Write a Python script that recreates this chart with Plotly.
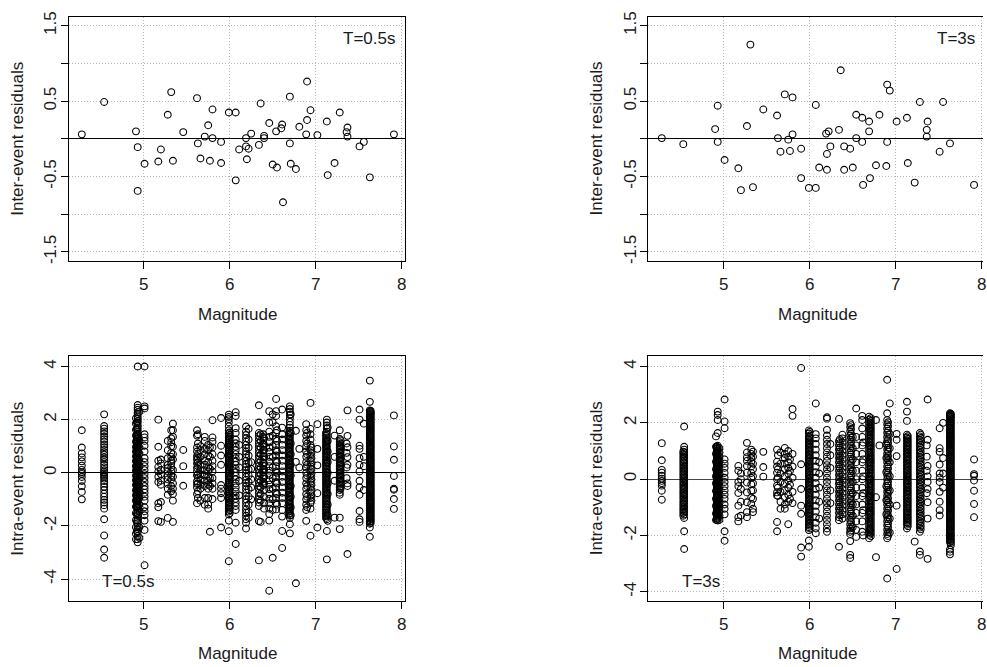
import plotly.graph_objects as go

W, H = 987, 667

# ---------------- data ----------------
inter05_mag = [4.28, 4.54, 4.91, 4.93, 4.93, 5.01, 5.17, 5.20, 5.28, 5.32, 5.34, 5.46, 5.62, 5.63, 5.66, 5.71,
               5.75, 5.77, 5.80, 5.80, 5.90, 5.90, 5.99, 6.07, 6.07, 6.11, 6.19, 6.19, 6.20, 6.22, 6.25, 6.34,
               6.36, 6.40, 6.40, 6.46, 6.50, 6.54, 6.55, 6.60, 6.61, 6.62, 6.70, 6.70, 6.71, 6.77, 6.81, 6.89,
               6.90, 6.90, 6.94, 7.02, 7.13, 7.14, 7.22, 7.28, 7.36, 7.37, 7.37, 7.51, 7.56, 7.63, 7.91]
inter05_res = [0.06, 0.49, 0.10, -0.11, -0.69, -0.33, -0.30, -0.14, 0.32, 0.62, -0.29, 0.09, 0.54, -0.06, -0.26, 0.03,
               0.18, -0.29, 0.39, 0.01, -0.04, -0.32, 0.35, 0.35, -0.55, -0.14, 0.01, -0.10, -0.27, -0.13, 0.07, -0.08,
               0.47, 0.04, 0.01, 0.21, -0.34, 0.10, -0.38, 0.14, 0.19, -0.84, 0.56, -0.06, -0.33, -0.40, 0.16, 0.06,
               0.76, 0.25, 0.38, 0.05, 0.23, -0.48, -0.32, 0.35, 0.09, 0.03, 0.15, -0.10, -0.04, -0.51, 0.06]

inter3_mag = [4.28, 4.53, 4.90, 4.93, 4.93, 5.01, 5.17, 5.20, 5.27, 5.31, 5.34, 5.46, 5.62, 5.63, 5.66, 5.71,
              5.75, 5.77, 5.80, 5.80, 5.90, 5.90, 5.99, 6.07, 6.07, 6.11, 6.19, 6.20, 6.20, 6.22, 6.24, 6.34,
              6.36, 6.40, 6.40, 6.47, 6.50, 6.54, 6.54, 6.61, 6.61, 6.62, 6.69, 6.69, 6.70, 6.77, 6.81, 6.89,
              6.90, 6.90, 6.93, 7.01, 7.13, 7.14, 7.22, 7.28, 7.36, 7.36, 7.37, 7.51, 7.55, 7.63, 7.91]
inter3_res = [0.01, -0.07, 0.13, 0.44, -0.04, -0.28, -0.39, -0.68, 0.17, 1.25, -0.64, 0.39, 0.31, 0.01, -0.17, 0.59,
              -0.01, -0.16, 0.55, 0.06, -0.13, -0.52, -0.65, 0.45, -0.65, -0.38, 0.07, -0.20, -0.41, 0.10, -0.10, 0.12,
              0.91, -0.10, -0.41, -0.13, -0.38, 0.32, 0.01, 0.28, -0.04, -0.61, 0.23, 0.10, -0.52, -0.35, 0.32, -0.36,
              0.72, -0.04, 0.64, 0.23, 0.28, -0.32, -0.58, 0.49, 0.03, 0.12, 0.23, -0.17, 0.49, -0.06, -0.61]

# intra-event residuals (T=0.5s), one list of records per event magnitude
intra05_mag = [4.28, 4.54, 4.91, 4.93, 5.01, 5.17, 5.20, 5.28, 5.32, 5.34, 5.46, 5.62, 5.63, 5.66, 5.71, 5.75,
               5.77, 5.80, 5.90, 5.99, 6.07, 6.11, 6.19, 6.22, 6.25, 6.34, 6.36, 6.40, 6.46, 6.50, 6.54, 6.55,
               6.61, 6.70, 6.71, 6.77, 6.81, 6.89, 6.90, 6.94, 7.02, 7.13, 7.14, 7.22, 7.28, 7.36, 7.37, 7.51,
               7.56, 7.63, 7.91,
               4.92, 4.95, 6.00, 6.39, 6.69, 6.95, 7.12, 7.29, 7.64]
intra05_res = [
    [1.60, 0.95, 0.73, 0.58, 0.43, 0.27, 0.11, 0.02, -0.04, -0.16, -0.31, -0.51, -0.72, -1.00],
    [2.20, 1.76, 1.66, 1.56, 1.47, 1.36, 1.26, 1.17, 1.06, 0.96, 0.86, 0.77, 0.68, 0.58, 0.50, 0.40, 0.30, 0.20,
     0.10, 0.04, -0.02, -0.08, -0.14, -0.22, -0.31, -0.41, -0.53, -0.65, -0.78, -0.90, -1.02, -1.12, -1.22, -1.35,
     -1.75, -2.36, -2.89, -3.20],
    [2.05, 1.85, 1.62, 1.40, 1.18, 0.97, 0.80, 0.62, 0.44, 0.25, 0.08, -0.10, -0.28, -0.46, -0.66, -0.85, -1.05,
     -1.28, -1.52, -1.78, -2.05, -2.30, -2.50],
    [4.00, 2.55, 2.45, 2.37, 2.28, 2.21, 2.12, 2.03, 1.95, 1.88, 1.78, 1.71, 1.62, 1.53, 1.46, 1.38, 1.31, 1.22,
     1.14, 1.05, 0.98, 0.91, 0.82, 0.74, 0.67, 0.58, 0.50, 0.43, 0.34, 0.26, 0.19, 0.10, 0.02, -0.06, -0.13,
     -0.22, -0.30, -0.37, -0.46, -0.54, -0.61, -0.70, -0.78, -0.85, -0.94, -1.02, -1.09, -1.18, -1.26, -1.33,
     -1.42, -1.50, -1.61, -1.70, -1.79, -1.90, -2.01, -2.12, -2.24, -2.38, -2.50, -2.62],
    [4.00, 2.50, 2.42, 1.45, 1.33, 1.20, 1.02, 0.80, 0.55, 0.40, 0.25, 0.10, -0.05, -0.20, -0.35, -0.50, -0.62,
     -0.75, -0.90, -1.05, -1.30, -1.45, -1.60, -1.80, -2.15, -3.48],
    [2.00, 0.98, 0.45, 0.22, 0.05, -0.15, -0.35, -1.15, -1.30, -1.82],
    [0.50, 0.35, 0.10, -0.05, -0.30, -0.45, -1.10, -1.85],
    [1.20, 0.85, 0.55, 0.30, 0.18, 0.05, -0.12, -0.25, -0.42, -0.60, -0.83, -1.70],
    [1.60, 1.30, 1.15, 1.00, 0.75, 0.60, 0.45, 0.35, 0.20, 0.05, -0.10, -0.25, -0.50, -0.70],
    [1.85, 1.60, 1.35, 0.98, 0.70, 0.50, 0.10, -0.15, -0.40, -0.60, -0.80, -1.05, -1.85],
    [0.86, 0.25, -0.49],
    [1.60, 1.40, 0.95, 0.80, 0.62, 0.50, 0.35, 0.18, 0.05, -0.10, -0.32, -0.42, -0.55, -0.80, -1.15],
    [1.45, 1.10, 0.70, 0.55, 0.40, 0.25, -0.05, -0.20, -0.40, -0.70, -0.95],
    [1.00, 0.85, 0.60, 0.30, 0.10, -0.05, -0.25, -0.45, -0.60, -1.05],
    [1.35, 1.20, 0.90, 0.70, 0.45, 0.30, 0.10, -0.10, -0.30, -0.50, -0.95, -1.20],
    [1.05, 0.85, 0.65, 0.40, 0.20, 0.05, -0.15, -0.30, -0.45, -0.60, -0.95, -1.20, -1.35],
    [0.95, 0.60, 0.15, -0.20, -0.50, -2.22],
    [1.98, 1.33, 1.17, 0.95, 0.70, 0.45, 0.25, 0.05, -0.20, -0.40, -0.60, -0.99],
    [2.06, 1.02, 0.65, 0.30, -0.46, -0.60, -0.77, -0.95, -2.06],
    [2.19, 2.10, 2.02, 1.90, 1.75, 1.60, 1.48, 1.38, 1.30, 1.22, 1.12, 1.05, 0.96, 0.88, 0.80, 0.71, 0.62, 0.55,
     0.46, 0.38, 0.30, 0.21, 0.13, 0.05, -0.03, -0.12, -0.20, -0.28, -0.37, -0.45, -0.53, -0.62, -0.70, -0.79,
     -0.88, -0.97, -1.06, -1.15, -1.25, -1.36, -1.46, -1.57, -1.80, -2.20, -3.33],
    [2.28, 2.14, 1.68, 1.50, 1.25, 1.11, 0.98, 0.85, 0.70, 0.55, 0.42, 0.30, 0.15, 0.02, -0.12, -0.25, -0.40,
     -0.55, -0.70, -0.85, -0.98, -1.12, -1.25, -1.40, -1.88, -2.68],
    [1.05, 0.60, 0.20, -0.30, -0.85],
    [1.74, 1.55, 1.42, 1.30, 1.18, 1.05, 0.93, 0.80, 0.70, 0.58, 0.45, 0.33, 0.22, 0.10, -0.02, -0.15, -0.27,
     -0.38, -0.50, -0.62, -0.75, -0.88, -1.00, -1.12, -1.25, -1.38, -1.50, -1.62, -1.75, -1.88, -2.10],
    [1.65, 1.25, 0.95, 0.65, 0.38, 0.12, -0.10, -0.35, -0.62, -0.90, -1.20, -1.48, -1.70],
    [0.40, 0.15, -0.25, -0.55, -1.00],
    [2.54, 1.89, 1.50, 1.38, 1.25, 1.12, 1.00, 0.88, 0.75, 0.62, 0.50, 0.38, 0.25, 0.12, 0.00, -0.12, -0.25,
     -0.38, -0.50, -0.62, -0.75, -0.88, -1.00, -1.12, -1.25, -1.82, -3.30],
    [1.45, 1.20, 0.95, 0.70, 0.45, 0.20, -0.05, -0.30, -0.55, -0.80, -1.05, -1.85],
    [1.30, 1.05, 0.85, 0.60, 0.35, 0.10, -0.15, -0.40, -0.65, -0.90, -1.15, -1.35],
    [2.32, 1.89, 1.55, 1.35, 1.15, 0.95, 0.78, 0.60, 0.42, 0.25, 0.08, -0.10, -0.28, -0.45, -0.62, -0.80, -0.98,
     -1.15, -1.35, -1.55, -1.80, -4.44],
    [2.20, 1.90, 1.40, 1.00, 0.60, 0.20, -0.20, -0.60, -1.00, -1.40, -3.20],
    [2.78, 2.32, 2.14, 1.75, 1.50, 1.28, 1.05, 0.85, 0.65, 0.45, 0.25, 0.05, -0.15, -0.35, -0.55, -0.75, -0.95,
     -1.15, -1.38],
    [1.60, 1.20, 0.80, 0.40, 0.00, -0.40, -0.80, -1.20],
    [2.38, 1.70, 1.45, 1.25, 1.05, 0.85, 0.65, 0.45, 0.25, 0.05, -0.15, -0.35, -0.55, -0.75, -0.95, -1.15, -1.40,
     -1.65, -2.19, -2.83],
    [2.50, 2.40, 2.30, 2.18, 2.05, 1.92, 1.80, 1.70, 1.58, 1.48, 1.38, 1.28, 1.18, 1.08, 0.98, 0.88, 0.78, 0.68,
     0.58, 0.48, 0.38, 0.28, 0.18, 0.08, -0.02, -0.12, -0.22, -0.32, -0.42, -0.52, -0.62, -0.72, -0.82, -0.92,
     -1.02, -1.12, -1.22, -1.32, -1.42, -1.52, -1.62, -1.70, -1.94, -2.28],
    [2.20, 1.50, 1.10, 0.70, 0.30, -0.10, -0.50, -0.90, -1.30, -1.60],
    [1.58, 0.41, -4.16],
    [0.90, 0.20],
    [1.83, 1.60, 1.40, 1.20, 1.00, 0.80, 0.60, 0.40, 0.20, 0.00, -0.20, -0.40, -0.60, -0.80, -1.00, -1.20, -1.40,
     -1.81],
    [1.50, 1.10, 0.70, 0.30, -0.10, -0.50, -0.90, -1.30],
    [2.63, 1.65, 1.45, 1.25, 1.05, 0.85, 0.65, 0.45, 0.25, 0.05, -0.15, -0.35, -0.55, -0.75, -0.95, -1.15, -1.35,
     -2.37],
    [1.83, 0.90, 0.28, -0.77, -2.06],
    [2.00, 1.89, 1.78, 1.66, 1.55, 1.44, 1.33, 1.22, 1.11, 1.00, 0.89, 0.78, 0.67, 0.56, 0.45, 0.34, 0.23, 0.12,
     0.01, -0.10, -0.21, -0.32, -0.43, -0.54, -0.65, -0.76, -0.87, -0.98, -1.09, -1.20, -1.31, -1.42, -1.53,
     -1.64, -1.75, -2.19, -3.26],
    [1.70, 1.20, 0.80, 0.40, 0.00, -0.40, -0.80, -1.20, -1.60, -1.81],
    [1.40, 0.60, -0.30, -1.69],
    [1.60, 1.27, 1.15, 1.05, 0.95, 0.85, 0.75, 0.65, 0.55, 0.45, 0.35, 0.25, 0.15, 0.05, -0.05, -0.15, -0.25,
     -0.35, -0.45, -0.55, -0.65, -0.75, -0.83, -1.69, -2.12],
    [1.10, 0.75, 0.20, -0.20],
    [2.35, 1.39, 0.96, 0.59, 0.30, -0.40, -0.50, -3.06],
    [2.38, 2.00, 1.02, 0.90, 0.55, 0.30, 0.05, -0.30, -0.55, -0.83, -1.44, -1.75, -1.85],
    [1.85, 0.60, 0.25, -0.65],
    [3.47, 2.67, 2.35, 2.30, 2.24, 2.18, 2.12, 2.06, 2.00, 1.93, 1.86, 1.79, 1.72, 1.65, 1.58, 1.51, 1.44, 1.37,
     1.30, 1.23, 1.16, 1.09, 1.02, 0.95, 0.88, 0.81, 0.74, 0.67, 0.60, 0.53, 0.46, 0.39, 0.32, 0.25, 0.18, 0.11,
     0.04, -0.03, -0.10, -0.17, -0.24, -0.31, -0.38, -0.45, -0.52, -0.59, -0.66, -0.73, -0.80, -0.87, -0.94,
     -1.01, -1.08, -1.15, -1.22, -1.29, -1.36, -1.43, -1.50, -1.57, -1.64, -1.71, -1.78, -1.85, -1.92, -2.06,
     -2.41],
    [2.16, 0.99, 0.49, -0.12, -0.60, -0.64, -0.99, -1.36],
    # records of neighbouring events inside the dense columns
    [1.90, 1.65, 1.42, 1.34, 1.26, 1.18, 1.10, 1.02, 0.94, 0.86, 0.78, 0.70, 0.62, 0.54, 0.46, 0.38, 0.30, 0.22,
     0.14, 0.06, -0.02, -0.10, -0.18, -0.26, -0.34, -0.42, -0.50, -0.58, -0.66, -0.74, -0.82, -0.90, -0.98,
     -1.06, -1.14, -1.22, -1.30, -1.55, -1.85, -2.20],
    [2.30, 1.20, 0.95, 0.72, 0.48, 0.24, 0.00, -0.24, -0.48, -0.72, -0.96, -1.20, -1.45, -2.05, -2.45],
    [1.52, 1.43, 1.34, 1.26, 1.17, 1.08, 1.00, 0.92, 0.84, 0.75, 0.67, 0.58, 0.50, 0.42, 0.34, 0.25, 0.17, 0.09,
     0.01, -0.08, -0.16, -0.24, -0.33, -0.41, -0.49, -0.58, -0.66, -0.75, -0.84, -0.93, -1.02, -1.11, -1.20,
     -1.30, -1.41, -1.52],
    [1.45, 1.35, 1.22, 1.10, 0.98, 0.86, 0.74, 0.62, 0.50, 0.38, 0.26, 0.14, 0.02, -0.10, -0.22, -0.34, -0.46],
    [1.52, 1.43, 1.33, 1.23, 1.13, 1.03, 0.93, 0.83, 0.73, 0.63, 0.53, 0.43, 0.33, 0.23, 0.13, 0.03, -0.07,
     -0.17, -0.27, -0.37, -0.47, -0.57, -0.67, -0.77, -0.87, -0.97, -1.07, -1.17, -1.27, -1.37, -1.47, -1.57],
    [0.95, 0.75, 0.55, 0.35, 0.15, -0.05, -0.25, -0.45, -0.65, -0.85, -1.05],
    [1.50, 1.39, 1.27, 1.16, 1.05, 0.94, 0.83, 0.72, 0.61, 0.50, 0.39, 0.28, 0.17, 0.06, -0.05, -0.16, -0.27,
     -0.38, -0.49, -0.60, -0.71, -0.82, -0.93, -1.04, -1.15, -1.26, -1.37, -1.48, -1.59, -1.70],
    [1.22, 1.10, 1.00, 0.90, 0.80, 0.70, 0.60, 0.50, 0.40, 0.30, 0.20, 0.10, 0.00, -0.10, -0.20, -0.30, -0.40,
     -0.50, -0.60],
    [2.33, 2.27, 2.21, 2.15, 2.09, 2.03, 1.96, 1.89, 1.82, 1.75, 1.68, 1.61, 1.54, 1.47, 1.40, 1.33, 1.26, 1.19,
     1.12, 1.05, 0.98, 0.91, 0.84, 0.77, 0.70, 0.63, 0.56, 0.49, 0.42, 0.35, 0.28, 0.21, 0.14, 0.07, 0.00,
     -0.07, -0.14, -0.21, -0.28, -0.35, -0.42, -0.49, -0.56, -0.63, -0.70, -0.77, -0.84, -0.91, -0.98, -1.05,
     -1.12, -1.19, -1.26, -1.33, -1.40, -1.47, -1.54, -1.61, -1.68, -1.75, -1.82, -1.89],
]

# intra-event residuals (T=3s)
intra3_mag = [4.28, 4.54, 4.91, 4.93, 5.01, 5.17, 5.20, 5.27, 5.32, 5.34, 5.46, 5.62, 5.63, 5.66, 5.71, 5.75,
              5.77, 5.80, 5.90, 5.99, 6.07, 6.11, 6.20, 6.24, 6.34, 6.38, 6.47, 6.50, 6.54, 6.61, 6.62, 6.69,
              6.70, 6.77, 6.81, 6.89, 6.90, 6.93, 7.01, 7.13, 7.22, 7.28, 7.36, 7.37, 7.51, 7.55, 7.63, 7.91,
              4.53, 4.92, 4.95, 6.00, 6.35, 6.48, 6.71, 6.91, 7.14, 7.29, 7.64]
intra3_res = [
    [1.28, 0.67, 0.33, 0.23, 0.12, 0.02, -0.06, -0.14, -0.23, -0.41, -0.73],
    [1.87, 1.15, 1.05, 0.95, 0.86, 0.76, 0.66, 0.56, 0.45, 0.35, 0.26, 0.15, 0.05, -0.05, -0.15, -0.26, -0.35,
     -0.45, -0.55, -0.65, -0.76, -0.85, -0.96, -1.05, -1.16, -1.25, -1.38, -1.85, -2.48],
    [1.52, 1.15, 0.90, 0.62, 0.35, 0.10, -0.15, -0.42, -0.70, -0.95, -1.22, -1.45],
    [2.40, 2.28, 2.10, 1.64, 1.19, 1.12, 1.05, 0.98, 0.91, 0.84, 0.77, 0.70, 0.63, 0.56, 0.49, 0.42, 0.35,
     0.28, 0.21, 0.14, 0.07, 0.00, -0.07, -0.14, -0.21, -0.28, -0.35, -0.42, -0.49, -0.56, -0.63, -0.70,
     -0.77, -0.84, -0.91, -0.98, -1.05, -1.12, -1.19, -1.26, -1.33, -1.40, -1.47],
    [2.83, 2.05, 1.81, 0.70, 0.55, 0.40, 0.22, 0.05, -0.10, -0.25, -0.40, -0.55, -0.70, -0.90, -1.05, -1.25,
     -1.85, -2.19],
    [0.47, 0.30, -0.10, -0.25, -0.49, -0.94, -1.35, -1.50],
    [0.20, 0.00, -0.35, -0.80, -1.30],
    [1.29, 0.95, 0.78, 0.65, 0.47, 0.23, -0.12, -0.47, -0.82, -1.17, -1.35],
    [1.05, 0.90, 0.75, 0.62, 0.45, 0.22, 0.05, -0.18, -0.41, -0.65, -0.88],
    [0.98, 0.80, 0.55, 0.35, 0.10, -0.15, -0.40, -0.70, -1.05, -1.17],
    [0.97, 0.43, 0.09],
    [1.05, 0.62, 0.45, 0.23, 0.00, -0.23, -0.47, -0.58, -1.52, -1.85],
    [0.85, 0.35, 0.05, -0.30, -0.60],
    [0.95, 0.55, 0.20, -0.10, -0.45, -0.80, -1.05],
    [1.11, 0.90, 0.75, 0.55, 0.35, 0.10, -0.15, -0.40, -0.65, -0.90, -1.05],
    [1.00, 0.80, 0.60, 0.40, 0.20, -0.05, -0.30, -0.55, -0.80, -1.60],
    [0.70, 0.30, -0.20, -0.70],
    [2.49, 2.25, 0.90, 0.45, 0.05, -0.45, -0.85],
    [3.95, 0.53, -0.35, -0.94, -1.23, -2.43, -2.75],
    [1.73, 1.62, 1.50, 1.40, 1.30, 1.20, 1.10, 1.00, 0.90, 0.80, 0.70, 0.60, 0.50, 0.40, 0.30, 0.20, 0.10,
     0.00, -0.10, -0.20, -0.30, -0.40, -0.50, -0.60, -0.70, -0.80, -0.90, -1.00, -1.10, -1.20, -1.30, -1.40,
     -1.50, -1.60, -1.70, -1.81, -2.18, -2.40],
    [2.69, 1.60, 1.45, 1.25, 1.05, 0.85, 0.65, 0.45, 0.25, 0.05, -0.15, -0.35, -0.55, -0.75, -0.95, -1.15,
     -1.35, -1.55, -1.75, -1.92],
    [0.60, 0.20, -0.30, -0.80, -1.40],
    [2.20, 2.15, 1.75, 1.55, 1.40, 1.25, 1.10, 0.95, 0.80, 0.65, 0.50, 0.35, 0.20, 0.05, -0.10, -0.25, -0.40,
     -0.55, -0.70, -0.85, -1.00, -1.15, -1.30, -1.45, -1.60, -1.75, -1.87],
    [1.25, 0.85, 0.40, -0.40, -0.85],
    [2.14, 1.35, 1.20, 1.05, 0.90, 0.75, 0.60, 0.45, 0.30, 0.15, 0.00, -0.15, -0.30, -0.45, -0.60, -0.75,
     -0.90, -1.05, -1.20, -1.35, -1.46, -2.40],
    [1.58, 1.45, 1.30, 1.15, 1.00, 0.85, 0.70, 0.55, 0.40, 0.25, 0.10, -0.05, -0.20, -0.35, -0.50, -0.65,
     -0.80, -0.95, -1.10, -1.25, -1.40],
    [1.99, 1.85, 1.70, 1.55, 1.40, 1.25, 1.10, 0.95, 0.80, 0.65, 0.50, 0.35, 0.20, 0.05, -0.10, -0.25, -0.40,
     -0.55, -0.70, -0.85, -1.00, -1.15, -1.30, -1.45, -1.60, -1.75, -1.87, -1.95, -2.20, -2.69, -2.80],
    [1.50, 1.10, 0.70, 0.30, -0.10, -0.50, -0.90, -1.30, -1.70],
    [2.51, 1.50, 1.20, 0.90, 0.60, 0.30, 0.00, -0.30, -0.60, -0.90, -1.20, -1.50, -1.80, -2.05],
    [2.25, 2.10, 1.80, 1.50, 1.20, 0.90, 0.60, 0.30, 0.00, -0.30, -0.60, -0.90, -1.20, -1.50, -1.87],
    [1.30, 0.70, 0.10, -0.50, -1.10, -2.00],
    [2.22, 2.12, 2.02, 1.92, 1.82, 1.72, 1.62, 1.52, 1.42, 1.32, 1.22, 1.12, 1.02, 0.92, 0.82, 0.72, 0.62,
     0.52, 0.42, 0.32, 0.22, 0.12, 0.02, -0.08, -0.18, -0.28, -0.38, -0.48, -0.58, -0.68, -0.78, -0.88, -0.98,
     -1.08, -1.18, -1.28, -1.38, -1.48, -1.58, -1.68, -1.78, -1.88, -1.98, -2.10],
    [1.80, 1.20, 0.60, 0.00, -0.60, -1.20, -1.80],
    [2.10, -0.64, -2.77],
    [1.20],
    [1.25, 0.75, 0.25, -0.25, -0.75, -1.25],
    [3.53, 2.34, 2.10, 1.95, 1.80, 1.65, 1.50, 1.35, 1.20, 1.05, 0.90, 0.75, 0.60, 0.45, 0.30, 0.15, 0.00,
     -0.15, -0.30, -0.45, -0.60, -0.75, -0.90, -1.05, -1.20, -1.35, -1.50, -1.65, -1.80, -1.95, -2.10, -3.53],
    [2.69, 1.60, 1.10, 0.60, 0.10, -0.40, -0.90, -1.40, -1.90],
    [1.61, 1.40, 0.82, -0.94, -3.19],
    [2.75, 2.40, 2.07, 1.58, 1.48, 1.38, 1.28, 1.18, 1.08, 0.98, 0.88, 0.78, 0.68, 0.58, 0.48, 0.38, 0.28,
     0.18, 0.08, -0.02, -0.12, -0.22, -0.32, -0.42, -0.52, -0.62, -0.72, -0.82, -0.92, -1.02, -1.12, -1.22,
     -1.32, -1.42, -1.52, -1.62, -1.75],
    [-2.22],
    [1.64, 1.52, 1.40, 1.28, 1.16, 1.04, 0.92, 0.80, 0.68, 0.56, 0.44, 0.32, 0.20, 0.08, -0.04, -0.16, -0.28,
     -0.40, -0.52, -0.64, -0.76, -0.88, -1.00, -1.12, -1.24, -1.36, -1.48, -1.60, -1.72, -1.87, -2.57, -2.69],
    [1.20, 0.80, 0.30, -0.50],
    [2.83, 1.40, 0.47, 0.10, -0.10, -0.35, -0.82, -1.40, -2.83],
    [1.81, 1.10, 0.97, 0.52, 0.20, 0.05, -0.10, -0.45, -0.80, -1.10, -1.29],
    [2.00, 0.75, 0.20, -0.30],
    [2.34, 2.30, 2.26, 2.22, 2.16, 2.10, 2.03, 1.96, 1.89, 1.82, 1.75, 1.68, 1.61, 1.54, 1.47, 1.40, 1.33,
     1.26, 1.19, 1.12, 1.05, 0.98, 0.91, 0.84, 0.77, 0.70, 0.63, 0.56, 0.49, 0.42, 0.35, 0.28, 0.21, 0.14,
     0.07, 0.00, -0.07, -0.14, -0.21, -0.28, -0.35, -0.42, -0.49, -0.56, -0.63, -0.70, -0.77, -0.84, -0.91,
     -0.98, -1.05, -1.12, -1.19, -1.26, -1.33, -1.40, -1.47, -1.54, -1.61, -1.68, -1.75, -1.82, -1.89, -1.96,
     -2.03, -2.10, -2.17, -2.24, -2.50, -2.58, -2.67],
    [0.70, 0.18, 0.12, -0.05, -0.41, -0.88, -1.35],
    # records of neighbouring events inside the dense columns
    [0.98, 0.90, 0.80, 0.70, 0.60, 0.50, 0.40, 0.30, 0.20, 0.10, 0.00, -0.10, -0.20, -0.30, -0.40, -0.50,
     -0.60, -0.70, -0.80, -0.90, -1.00, -1.10, -1.20, -1.30],
    [1.16, 1.08, 1.01, 0.94, 0.87, 0.80, 0.73, 0.66, 0.59, 0.52, 0.45, 0.38, 0.31, 0.24, 0.17, 0.10, 0.03,
     -0.04, -0.11, -0.18, -0.25, -0.32, -0.39, -0.46, -0.53, -0.60, -0.67, -0.74, -0.81, -0.88, -0.95, -1.02,
     -1.09, -1.16, -1.23, -1.30, -1.37, -1.44],
    [1.10, 0.95, 0.80, 0.65, 0.50, 0.35, 0.20, 0.05, -0.10, -0.25, -0.40, -0.55, -0.70, -0.85, -1.00, -1.15,
     -1.30, -1.45],
    [1.68, 1.55, 1.45, 1.35, 1.25, 1.15, 1.05, 0.95, 0.85, 0.75, 0.65, 0.55, 0.45, 0.35, 0.25, 0.15, 0.05,
     -0.05, -0.15, -0.25, -0.35, -0.45, -0.55, -0.65, -0.75, -0.85, -0.95, -1.05, -1.15, -1.25, -1.35, -1.45,
     -1.55, -1.65, -1.75],
    [1.42, 1.28, 1.12, 0.98, 0.82, 0.68, 0.52, 0.38, 0.22, 0.08, -0.08, -0.22, -0.38, -0.52, -0.68, -0.82,
     -0.98, -1.12, -1.28],
    [1.92, 1.78, 1.62, 1.48, 1.32, 1.18, 1.02, 0.88, 0.72, 0.58, 0.42, 0.28, 0.12, -0.02, -0.18, -0.32, -0.48,
     -0.62, -0.78, -0.92, -1.08, -1.22, -1.38, -1.52, -1.68, -1.82],
    [2.17, 2.07, 1.97, 1.87, 1.77, 1.67, 1.57, 1.47, 1.37, 1.27, 1.17, 1.07, 0.97, 0.87, 0.77, 0.67, 0.57,
     0.47, 0.37, 0.27, 0.17, 0.07, -0.03, -0.13, -0.23, -0.33, -0.43, -0.53, -0.63, -0.73, -0.83, -0.93, -1.03,
     -1.13, -1.23, -1.33, -1.43, -1.53, -1.63, -1.73, -1.83, -1.93, -2.03],
    [2.02, 1.88, 1.72, 1.58, 1.42, 1.28, 1.12, 0.98, 0.82, 0.68, 0.52, 0.38, 0.22, 0.08, -0.08, -0.22, -0.38,
     -0.52, -0.68, -0.82, -0.98, -1.12, -1.28, -1.42, -1.58, -1.72, -1.88, -2.02],
    [1.53, 1.43, 1.33, 1.23, 1.13, 1.03, 0.93, 0.83, 0.73, 0.63, 0.53, 0.43, 0.33, 0.23, 0.13, 0.03, -0.07,
     -0.17, -0.27, -0.37, -0.47, -0.57, -0.67, -0.77, -0.87, -0.97, -1.07, -1.17, -1.27, -1.37, -1.47, -1.57,
     -1.67],
    [1.58, 1.46, 1.34, 1.22, 1.10, 0.98, 0.86, 0.74, 0.62, 0.50, 0.38, 0.26, 0.14, 0.02, -0.10, -0.22, -0.34,
     -0.46, -0.58, -0.70, -0.82, -0.94, -1.06, -1.18, -1.30, -1.42, -1.54, -1.66, -1.78],
    [2.32, 2.28, 2.24, 2.19, 2.13, 2.06, 1.99, 1.92, 1.85, 1.78, 1.71, 1.64, 1.57, 1.50, 1.43, 1.36, 1.29,
     1.22, 1.15, 1.08, 1.01, 0.94, 0.87, 0.80, 0.73, 0.66, 0.59, 0.52, 0.45, 0.38, 0.31, 0.24, 0.17, 0.10,
     0.03, -0.03, -0.10, -0.17, -0.24, -0.31, -0.38, -0.45, -0.52, -0.59, -0.66, -0.73, -0.80, -0.87, -0.94,
     -1.01, -1.08, -1.15, -1.22, -1.29, -1.36, -1.43, -1.50, -1.57, -1.64, -1.71, -1.78, -1.85, -1.92, -1.99,
     -2.06, -2.13, -2.20, -2.27, -2.35],
]

x_ticks = [5, 6, 7, 8]
inter_ticks = [-1.5, -1.0, -0.5, 0.0, 0.5, 1.0, 1.5]
inter_ticktext = ["-1.5", "", "-0.5", "", "0.5", "", "1.5"]
intra_ticks = [-4, -2, 0, 2, 4]
intra_ticktext = ["-4", "-2", "0", "2", "4"]


def flatten(mags, groups):
    xs, ys = [], []
    for m, g in zip(mags, groups):
        for v in g:
            xs.append(m)
            ys.append(v)
    return xs, ys


# ---------------- figure ----------------
FONT = "Liberation Sans, Arial, sans-serif"
TXT = "#1a1a1a"


def px_x(p):
    return p / W


def px_y(p):
    return 1 - p / H


fig = go.Figure()
marker = dict(symbol="circle-open", size=6.8, color="black", line=dict(width=1.1, color="black"))

fig.add_trace(go.Scatter(x=inter05_mag, y=inter05_res, mode="markers", marker=marker,
                         xaxis="x", yaxis="y", showlegend=False))
fig.add_trace(go.Scatter(x=inter3_mag, y=inter3_res, mode="markers", marker=marker,
                         xaxis="x2", yaxis="y2", showlegend=False))
bx, by = flatten(intra05_mag, intra05_res)
fig.add_trace(go.Scatter(x=bx, y=by, mode="markers", marker=marker,
                         xaxis="x3", yaxis="y3", showlegend=False))
cx, cy = flatten(intra3_mag, intra3_res)
fig.add_trace(go.Scatter(x=cx, y=cy, mode="markers", marker=marker,
                         xaxis="x4", yaxis="y4", showlegend=False))

left_dom = [px_x(69), px_x(407)]
right_dom = [px_x(651), 1.0]
top_dom = [px_y(259), px_y(12)]
bot_dom = [px_y(603.3), px_y(355.7)]

common_axis = dict(
    showline=True, linecolor="black", linewidth=1,
    ticks="outside", ticklen=7, tickwidth=1, tickcolor="black",
    showgrid=True, gridcolor="#b8b8b8", griddash="1px,2px", gridwidth=1,
    tickfont=dict(family=FONT, size=17, color=TXT),
)


def xax(domain, rng, anchor, mirror):
    d = dict(common_axis)
    d.update(domain=domain, range=rng, anchor=anchor, tickvals=x_ticks,
             ticktext=[str(v) for v in x_ticks], mirror=mirror, zeroline=False,
             ticklabelstandoff=1, ticklabeloverflow="allow")
    return d


def yax(domain, rng, anchor, mirror, tv, tt, zc):
    d = dict(common_axis)
    d.update(domain=domain, range=rng, anchor=anchor, tickvals=tv, ticktext=tt,
             mirror=mirror, tickangle=-90, zeroline=True, zerolinecolor=zc, zerolinewidth=1.2,
             ticklabelstandoff=-2)
    return d


fig.update_layout(
    width=W, height=H,
    margin=dict(l=0, r=0, t=0, b=0),
    paper_bgcolor="white", plot_bgcolor="white",
    font=dict(family=FONT, size=17, color=TXT),
    xaxis=xax(left_dom, [4.128, 8.043], "y", True),
    yaxis=yax(top_dom, [-1.618, 1.618], "x", True, inter_ticks, inter_ticktext, "black"),
    xaxis2=xax(right_dom, [4.124, 8.014], "y2", True),
    yaxis2=yax(top_dom, [-1.618, 1.618], "x2", False, inter_ticks, inter_ticktext, "black"),
    xaxis3=xax(left_dom, [4.128, 8.043], "y3", True),
    yaxis3=yax(bot_dom, [-4.83, 4.38], "x3", True, intra_ticks, intra_ticktext, "black"),
    xaxis4=xax(right_dom, [4.124, 8.014], "y4", True),
    yaxis4=yax(bot_dom, [-4.33, 4.36], "x4", False, intra_ticks, intra_ticktext, "#444"),
)

ann = []


def text(s, x, y, xanchor="center", angle=0, size=17):
    ann.append(dict(text=s, x=px_x(x), y=px_y(y), xref="paper", yref="paper",
                    xanchor=xanchor, yanchor="middle", showarrow=False, textangle=angle,
                    font=dict(family=FONT, size=size, color=TXT)))


text("Magnitude", 238, 313)
text("Magnitude", 820.5, 313)
text("Magnitude", 238, 656)
text("Magnitude", 820.5, 656)
text("Inter-event residuals", 18, 135.5, angle=-90)
text("Inter-event residuals", 599, 135.5, angle=-90)
text("Intra-event residuals", 18, 479.5, angle=-90)
text("Intra-event residuals", 599, 479.5, angle=-90)
text("T=0.5s", 399, 34, xanchor="right")
text("T=3s", 981, 34, xanchor="right")
text("T=0.5s", 100, 584, xanchor="left")
text("T=3s", 683, 583, xanchor="left")
fig.update_layout(annotations=ann)

fig.write_html(
    "out.html",
    config={"displayModeBar": False},
    post_script="document.body.style.margin='0';document.body.style.overflow='hidden';",
)
